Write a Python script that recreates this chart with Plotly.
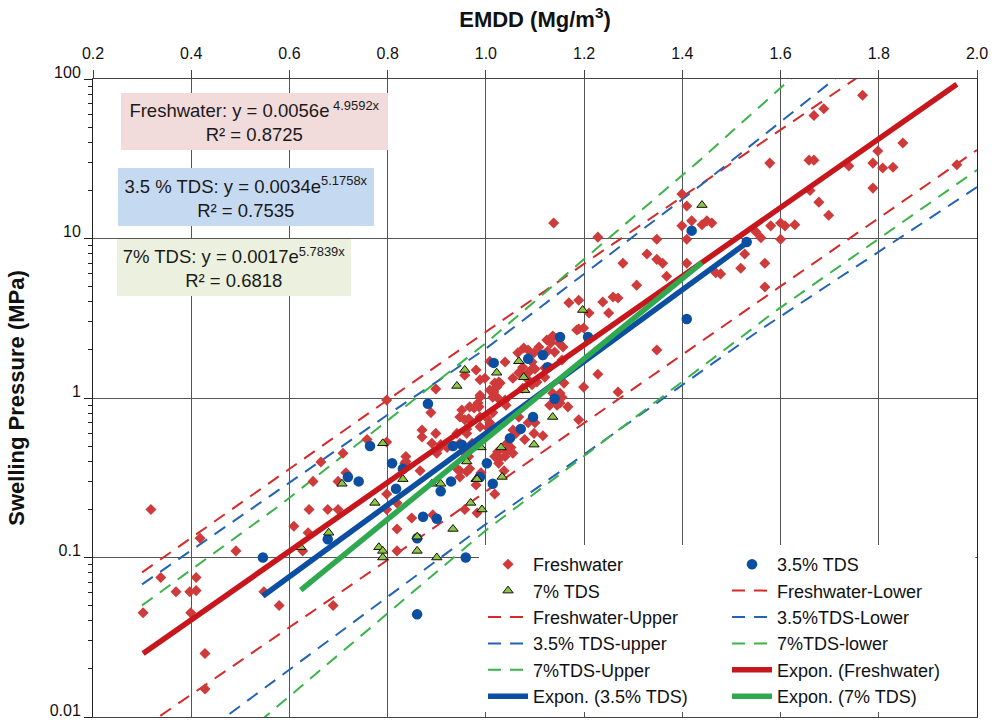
import plotly.graph_objects as go

FONT = "Liberation Sans, Arial, sans-serif"

# ---------------- data ----------------
FW_X = [0.318, 0.338, 0.369, 0.397, 0.410, 0.410, 0.302, 0.399, 0.428, 0.428,
        0.418, 0.491, 0.609, 0.640, 0.678, 0.699, 0.638, 0.627, 0.648, 0.664,
        0.709, 0.715, 0.699, 0.758, 0.798, 0.798, 0.579, 0.548, 0.689, 0.798,
        0.798, 0.819, 0.849, 0.819, 0.837, 0.837, 0.870, 0.870, 0.898, 0.898,
        0.888, 0.890, 0.906, 0.900, 0.892, 0.957, 0.982, 1.018, 0.947, 0.980,
        0.990, 0.961, 0.947, 1.037, 0.957, 0.967, 0.947, 0.961, 0.941, 0.921,
        0.947, 0.957, 0.961, 0.967, 0.986, 0.988, 1.002, 1.014, 1.008, 0.988,
        0.988, 0.984, 0.951, 0.972, 0.965, 0.941, 0.967, 1.018, 1.039, 1.029,
        1.041, 1.055, 1.051, 1.043, 1.055, 1.079, 1.098, 1.116, 1.086, 1.100,
        1.067, 1.039, 1.041, 1.024, 1.008, 1.016, 1.022, 1.026, 0.988, 0.980,
        0.957, 1.008, 1.039, 1.067, 1.096, 1.083, 1.104, 1.120, 1.159, 1.075,
        1.136, 1.151, 1.151, 1.167, 1.189, 1.199, 1.228, 1.269, 1.348, 1.155,
        1.157, 1.140, 1.126, 1.116, 1.098, 1.086, 1.065, 1.077, 1.108, 1.132,
        1.124, 1.138, 1.189, 1.199, 1.169, 1.189, 1.238, 1.259, 1.269, 1.250,
        1.138, 1.228, 1.328, 1.348, 1.360, 1.279, 1.368, 1.307, 1.348, 1.399,
        1.409, 1.419, 1.399, 1.440, 1.450, 1.460, 1.409, 1.468, 1.478, 1.519,
        1.568, 1.568, 1.409, 1.550, 1.560, 1.580, 1.600, 1.609, 1.629, 1.600,
        1.527, 1.578, 1.658, 1.668, 1.739, 1.798, 1.849, 1.788, 1.808, 1.829,
        1.959, 1.788, 1.678, 1.698, 1.767, 1.668, 1.688, 1.660, 1.185, 1.094,
        1.130, 1.145, 1.155, 1.018, 1.055, 1.149, 1.136, 1.210, 1.094, 1.100,
        0.819, 0.976, 0.988, 1.004, 0.965, 1.026, 0.835, 0.908, 1.024, 0.866,
        1.061, 1.086, 1.075, 1.120, 1.014, 0.998, 1.029]
FW_Y = [0.200, 0.075, 0.061, 0.061, 0.062, 0.075, 0.045, 0.045, 0.025, 0.015,
        0.132, 0.110, 0.157, 0.200, 0.200, 0.200, 0.143, 0.110, 0.300, 0.397,
        0.450, 0.340, 0.300, 0.550, 0.530, 0.970, 0.050, 0.061, 0.050, 0.250,
        0.200, 0.151, 0.177, 0.110, 0.430, 0.400, 0.630, 0.570, 0.600, 1.14,
        0.810, 0.520, 0.490, 0.450, 0.185, 0.200, 0.190, 0.250, 0.320, 0.285,
        0.340, 0.345, 0.350, 0.350, 0.450, 0.480, 0.520, 0.600, 0.600, 0.490,
        0.760, 0.730, 0.640, 0.880, 0.880, 0.760, 0.750, 0.810, 0.700, 0.660,
        1.01, 0.930, 0.840, 0.520, 0.430, 0.360, 0.360, 0.430, 0.430, 0.420,
        0.460, 0.450, 0.490, 0.520, 0.630, 0.550, 0.600, 0.580, 0.700, 0.700,
        0.760, 0.970, 0.900, 1.00, 1.12, 1.09, 1.17, 1.26, 1.30, 1.50,
        1.39, 1.70, 1.68, 1.44, 1.54, 1.33, 1.26, 1.35, 1.24, 1.15,
        1.07, 1.07, 0.93, 0.88, 0.73, 1.17, 1.41, 1.09, 2.00, 1.73,
        2.09, 1.94, 1.97, 1.86, 1.92, 2.00, 1.92, 2.06, 2.09, 2.21,
        2.31, 2.41, 2.71, 2.75, 3.95, 4.10, 4.00, 4.30, 4.24, 3.41,
        12.5, 10.2, 8.00, 7.40, 7.00, 7.00, 5.80, 5.10, 9.90, 19.0,
        16.0, 12.9, 12.0, 12.2, 12.9, 12.5, 9.90, 6.10, 6.00, 6.50,
        7.00, 4.97, 7.00, 11.0, 10.1, 12.0, 12.5, 12.0, 12.2, 9.90,
        8.00, 29.7, 31.0, 31.0, 28.5, 35.4, 39.7, 29.7, 27.7, 28.0,
        29.0, 20.7, 16.9, 14.0, 79.0, 59.0, 65.0, 20.0, 2.67, 1.21,
        0.90, 0.90, 1.01, 1.24, 1.33, 2.21, 2.45, 3.41, 1.68, 1.52,
        0.22, 0.865, 1.04, 0.65, 0.74, 0.39, 0.39, 0.51, 0.46, 0.35,
        0.60, 1.44, 1.56, 1.54, 1.01, 1.33, 1.24]

TDS35_X = [0.546, 0.764, 0.719, 0.741, 0.809, 0.831, 0.817, 0.882, 0.872, 0.900,
           0.908, 0.929, 0.933, 0.951, 0.860, 0.959, 0.860, 1.002, 0.988, 1.014,
           0.678, 1.419, 1.409, 1.531, 1.151, 1.208, 1.086, 1.116, 1.016, 1.126,
           1.140, 1.096, 1.071, 1.049]
TDS35_Y = [0.100, 0.500, 0.320, 0.300, 0.390, 0.360, 0.270, 0.920, 0.180, 0.175,
           0.260, 0.300, 0.500, 0.510, 0.132, 0.100, 0.044, 0.390, 0.320, 0.290,
           0.130, 11.2, 3.13, 9.50, 2.41, 2.41, 1.76, 1.86, 1.66, 1.56,
           0.99, 0.76, 0.64, 0.56]

TDS7_X = [0.941, 0.790, 0.707, 0.831, 0.774, 0.680, 0.623, 0.782, 0.790, 0.790,
          0.860, 0.860, 0.900, 0.933, 0.969, 0.992, 0.961, 0.980, 0.908, 0.890,
          1.440, 1.197, 1.067, 1.077, 1.022, 0.957, 1.079, 1.136, 1.098, 1.031,
          0.990, 0.982, 1.033]
TDS7_Y = [1.19, 0.52, 0.29, 0.31, 0.22, 0.143, 0.116, 0.116, 0.110, 0.100,
          0.135, 0.110, 0.100, 0.151, 0.22, 0.20, 0.40, 0.31, 0.29, 0.29,
          16.2, 3.56, 1.70, 1.35, 1.44, 1.50, 1.12, 0.76, 0.51, 0.49,
          0.49, 0.31, 0.32]

# prediction bounds (dashed)
FW_UP_X = [0.30, 0.80, 1.226, 1.745, 2.00]
FW_UP_Y = [0.0807, 0.973, 7.89, 97.1, 331.0]
FW_LO_X = [0.30, 0.788, 1.598, 2.00]
FW_LO_Y = [0.0085, 0.091, 4.97, 35.9]
T35_UP_X = [0.30, 0.80, 1.00, 1.436, 1.71, 2.00]
T35_UP_Y = [0.0679, 0.785, 2.04, 21.4, 100.0, 525.0]
T35_LO_X = [0.30, 0.467, 1.00, 1.558, 2.00]
T35_LO_Y = [0.00398, 0.00986, 0.162, 2.67, 21.0]
T7_UP_X = [0.30, 0.581, 1.00, 1.436, 1.625, 2.00]
T7_UP_Y = [0.0501, 0.213, 2.21, 31.0, 103.0, 1200.0]
T7_LO_X = [0.30, 0.55, 1.00, 1.59, 1.80, 2.00]
T7_LO_Y = [0.00224, 0.0100, 0.148, 3.51, 9.93, 26.9]

# exponential trendlines (end points of the fitted curves)
FW_FIT_X = [0.302, 1.959]
FW_FIT_Y = [0.0250, 92.8]
T35_FIT_X = [0.546, 1.531]
T35_FIT_Y = [0.0574, 9.40]
T7_FIT_X = [0.623, 1.440]
T7_FIT_Y = [0.0624, 7.05]

X_TICKS = [0.2, 0.4, 0.6, 0.8, 1.0, 1.2, 1.4, 1.6, 1.8, 2.0]
Y_TICKS = [0.01, 0.1, 1, 10, 100]
Y_TICK_TEXT = ["0.01", "0.1", "1", "10", "100"]

EQUATIONS = [
    ("Freshwater: y = 0.0056e<sup> 4.9592x</sup><br>R² = 0.8725", "#F2DCDB"),
    ("3.5 % TDS: y = 0.0034e<sup>5.1758x</sup><br>R² = 0.7535", "#C5D9F1"),
    ("7% TDS: y = 0.0017e<sup>5.7839x</sup><br>R² = 0.6818", "#EBF1DE"),
]

RED, BLUE, GREEN = "#C8161D", "#0B4EA2", "#2FA84F"
RED_D, BLUE_D, GREEN_D = "#D42A2A", "#2464B4", "#3BB34A"

fig = go.Figure()

DASH = "13px,9px"
for name, xs, ys, col, leg, rank in [
    ("Freshwater-Upper", FW_UP_X, FW_UP_Y, RED_D, "legend", 3),
    ("3.5% TDS-upper", T35_UP_X, T35_UP_Y, BLUE_D, "legend", 4),
    ("7%TDS-Upper", T7_UP_X, T7_UP_Y, GREEN_D, "legend", 5),
    ("Freshwater-Lower", FW_LO_X, FW_LO_Y, RED_D, "legend2", 2),
    ("3.5%TDS-Lower", T35_LO_X, T35_LO_Y, BLUE_D, "legend2", 3),
    ("7%TDS-lower", T7_LO_X, T7_LO_Y, GREEN_D, "legend2", 4),
]:
    fig.add_trace(go.Scatter(x=xs, y=ys, mode="lines", name=name,
                             line=dict(color=col, width=2, dash=DASH),
                             legend=leg, legendrank=rank))

fig.add_trace(go.Scatter(x=FW_X, y=FW_Y, mode="markers", name="Freshwater",
                         marker=dict(symbol="diamond", size=8.5, color="#CF3B3B",
                                     line=dict(width=0)),
                         legend="legend", legendrank=1))
fig.add_trace(go.Scatter(x=TDS35_X, y=TDS35_Y, mode="markers", name="3.5% TDS",
                         marker=dict(symbol="circle", size=10.5, color=BLUE,
                                     line=dict(width=0)),
                         legend="legend2", legendrank=1))
fig.add_trace(go.Scatter(x=TDS7_X, y=TDS7_Y, mode="markers", name="7% TDS",
                         marker=dict(symbol="triangle-up", size=9, color="#8DC63F",
                                     line=dict(width=1, color="#111111")),
                         legend="legend", legendrank=2))

for name, xs, ys, col, leg, rank in [
    ("Expon. (Freshwater)", FW_FIT_X, FW_FIT_Y, RED, "legend2", 5),
    ("Expon. (3.5% TDS)", T35_FIT_X, T35_FIT_Y, BLUE, "legend", 6),
    ("Expon. (7% TDS)", T7_FIT_X, T7_FIT_Y, GREEN, "legend2", 6),
]:
    fig.add_trace(go.Scatter(x=xs, y=ys, mode="lines", name=name,
                             line=dict(color=col, width=5.5),
                             legend=leg, legendrank=rank))

# equation boxes
box_pos = [(0.0317, 0.978, 267, 57), (0.0283, 0.8605, 256, 58), (0.0271, 0.7492, 234, 57)]
for (txt, bg), (bx, by, bw, bh) in zip(EQUATIONS, box_pos):
    fig.add_annotation(xref="paper", yref="paper", x=bx, y=by, xanchor="left",
                       yanchor="top", text=txt, showarrow=False, align="center",
                       valign="middle", width=bw, height=bh, bgcolor=bg,
                       borderpad=0, borderwidth=0,
                       font=dict(family=FONT, size=18.5, color="#1A1A1A"))

# white legend panel
fig.add_shape(type="rect", xref="paper", yref="paper", x0=0.4367, x1=0.998,
              y0=0.0078, y1=0.2696, fillcolor="white", line=dict(width=0),
              layer="above")

leg_common = dict(font=dict(family=FONT, size=18, color="#111111"),
                  bgcolor="rgba(0,0,0,0)", borderwidth=0, itemwidth=40,
                  yanchor="top", xanchor="left", traceorder="normal",
                  orientation="v")

fig.update_layout(
    width=994, height=720,
    margin=dict(l=93, r=17, t=79, b=3, autoexpand=False),
    paper_bgcolor="white", plot_bgcolor="white",
    font=dict(family=FONT, size=16, color="#111111"),
    showlegend=True,
    legend=dict(x=0.4412, y=0.268, **leg_common),
    legend2=dict(x=0.7172, y=0.268, **leg_common),
    xaxis=dict(
        side="top", range=[0.2, 2.0], tickvals=X_TICKS, tickformat=".1f",
        ticks="outside", ticklen=8, tickcolor="#444", tickwidth=1,
        ticklabelstandoff=5, ticklabeloverflow="allow",
        showline=True, linecolor="#444", linewidth=1, mirror=True,
        showgrid=True, gridcolor="#555", gridwidth=1, zeroline=False,
        automargin=False,
        tickfont=dict(family=FONT, size=16, color="#111111"),
        title=dict(text="<b>EMDD (Mg/m<sup>3</sup>)</b>", standoff=10,
                   font=dict(family=FONT, size=22, color="#111111")),
    ),
    yaxis=dict(
        type="log", range=[-2, 2], tickvals=Y_TICKS, ticktext=Y_TICK_TEXT,
        ticks="outside", ticklen=8, tickcolor="#222", tickwidth=1,
        ticklabeloverflow="allow", ticklabelshift=-7,
        minor=dict(ticks="outside", ticklen=4, tickcolor="#222", showgrid=False,
                   dtick="D1"),
        showline=True, linecolor="#222", linewidth=1, mirror=True,
        showgrid=True, gridcolor="#555", gridwidth=1, zeroline=False,
        automargin=False,
        tickfont=dict(family=FONT, size=16, color="#111111"),
        title=dict(text="<b>Swelling Pressure (MPa)</b>", standoff=18,
                   font=dict(family=FONT, size=22, color="#111111")),
    ),
)

fig.write_html("out.html", config={"displayModeBar": False},
               post_script="document.body.style.margin='0';")
